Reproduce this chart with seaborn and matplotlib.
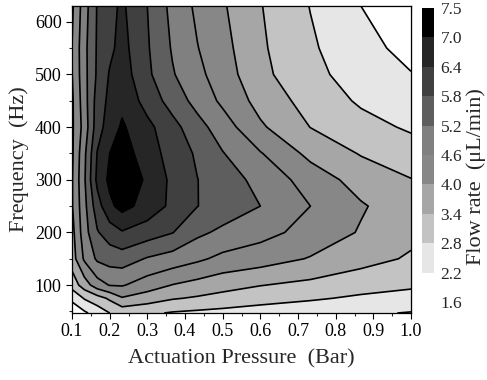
import numpy as np
import matplotlib
matplotlib.use('Agg')
import matplotlib.pyplot as plt
import seaborn as sns
from matplotlib.ticker import MultipleLocator, FormatStrFormatter

# grid: actuation pressure (Bar) x frequency (Hz)
pressure = [0.1, 0.133, 0.167, 0.2, 0.233, 0.3, 0.367, 0.433, 0.5, 0.6, 0.733, 0.867, 1.0]
frequency = [47, 75, 100, 150, 200, 250, 300, 350, 400, 450, 500, 550, 630]

# flow rate (uL/min), one list per frequency row
flow_47 = [1.90, 2.10, 2.45, 2.80, 3.00, 2.90, 2.75, 2.68, 2.62, 2.50, 2.38, 2.28, 2.17]
flow_75 = [2.30, 2.85, 3.15, 3.50, 3.95, 3.70, 3.45, 3.33, 3.20, 3.05, 2.88, 2.70, 2.57]
flow_100 = [3.05, 3.70, 4.33, 4.63, 4.65, 4.30, 3.98, 3.80, 3.62, 3.42, 3.25, 3.05, 2.90]
flow_150 = [3.70, 4.70, 5.30, 5.45, 5.50, 5.15, 4.95, 4.71, 4.45, 4.28, 3.96, 3.61, 3.33]
flow_200 = [3.80, 4.95, 5.75, 6.10, 6.35, 6.10, 5.82, 5.33, 5.07, 4.80, 4.39, 3.95, 3.55]
flow_250 = [3.95, 5.03, 6.14, 6.87, 7.20, 6.77, 6.26, 5.81, 5.56, 5.20, 4.60, 4.06, 3.65]
flow_300 = [3.95, 5.13, 6.55, 7.13, 7.50, 6.89, 6.26, 5.81, 5.49, 5.02, 4.33, 3.76, 3.42]
flow_350 = [3.90, 5.07, 6.43, 7.00, 7.30, 6.67, 6.17, 5.71, 5.23, 4.64, 3.84, 3.36, 3.07]
flow_400 = [3.90, 4.85, 6.13, 6.70, 7.08, 6.56, 6.00, 5.42, 4.89, 4.09, 3.39, 3.00, 2.72]
flow_450 = [3.90, 4.95, 6.05, 6.55, 6.85, 6.17, 5.55, 4.99, 4.48, 3.79, 3.16, 2.72, 2.44]
flow_500 = [3.98, 5.01, 5.89, 6.45, 6.70, 5.92, 5.25, 4.75, 4.30, 3.56, 2.95, 2.56, 2.22]
flow_550 = [4.00, 5.03, 5.87, 6.27, 6.60, 5.86, 5.14, 4.62, 4.20, 3.49, 2.89, 2.36, 2.05]
flow_630 = [3.90, 4.93, 5.84, 6.23, 6.50, 5.80, 5.02, 4.48, 4.07, 3.43, 2.78, 2.20, 1.80]

levels = [1.6, 2.2, 2.8, 3.4, 4.0, 4.6, 5.2, 5.8, 6.4, 7.0, 7.5]
level_labels = ['1.6', '2.2', '2.8', '3.4', '4.0', '4.6', '5.2', '5.8', '6.4', '7.0', '7.5']
grays = ['#ffffff', '#e6e6e6', '#c3c3c3', '#a6a6a6', '#878787', '#808080',
         '#5e5e5e', '#404040', '#262626', '#000000']

flow = np.array([flow_47, flow_75, flow_100, flow_150, flow_200, flow_250, flow_300,
                 flow_350, flow_400, flow_450, flow_500, flow_550, flow_630])

sns.set_style('ticks')
plt.rcParams['font.family'] = ['Liberation Serif', 'DejaVu Serif']
plt.rcParams['mathtext.fontset'] = 'stix'

fig = plt.figure(figsize=(4.87, 3.80), dpi=100)
ax = fig.add_axes([72 / 487, 1 - 313 / 380, 339 / 487, 307 / 380])

cs = ax.contourf(pressure, frequency, flow, levels=levels, colors=grays)
ax.contour(pressure, frequency, flow, levels=levels, colors='black', linewidths=1.2)

ax.set_xlim(0.1, 1.0)
ax.set_ylim(47, 630)
ax.xaxis.set_major_locator(MultipleLocator(0.1))
ax.xaxis.set_minor_locator(MultipleLocator(0.05))
ax.xaxis.set_major_formatter(FormatStrFormatter('%.1f'))
ax.set_yticks([100, 200, 300, 400, 500, 600])
ax.yaxis.set_minor_locator(MultipleLocator(50))
ax.tick_params(which='major', direction='out', length=4, width=0.8, labelsize=13, colors='black')
ax.tick_params(which='minor', direction='out', length=2.5, width=0.8)
for sp in ax.spines.values():
    sp.set_color('black')
    sp.set_linewidth(0.9)

# mirrored ticks pointing inwards on top and right
top = ax.secondary_xaxis('top')
top.xaxis.set_major_locator(MultipleLocator(0.1))
top.xaxis.set_minor_locator(MultipleLocator(0.05))
top.tick_params(which='both', direction='in', labeltop=False, width=0.8)
top.tick_params(which='major', length=4)
top.tick_params(which='minor', length=2.5)
right = ax.secondary_yaxis('right')
right.set_yticks([100, 200, 300, 400, 500, 600])
right.yaxis.set_minor_locator(MultipleLocator(50))
right.tick_params(which='both', direction='in', labelright=False, width=0.8)
right.tick_params(which='major', length=4)
right.tick_params(which='minor', length=2.5)

ax.set_xlabel('Actuation Pressure  (Bar)', fontsize=16, labelpad=6)
ax.set_ylabel('Frequency  (Hz)', fontsize=16, labelpad=4)

cax = fig.add_axes([422 / 487, 1 - 302 / 380, 11.5 / 487, 294 / 380])
cb = fig.colorbar(cs, cax=cax, ticks=levels)
cb.outline.set_visible(False)
cb.set_ticklabels(level_labels)
cax.tick_params(length=0, labelsize=12.5, pad=5)
fig.text(476 / 487, 1 - 177 / 380, 'Flow rate  (μL/min)', rotation=90,
         ha='center', va='center', fontsize=16)

plt.savefig('out.png', dpi=100)
